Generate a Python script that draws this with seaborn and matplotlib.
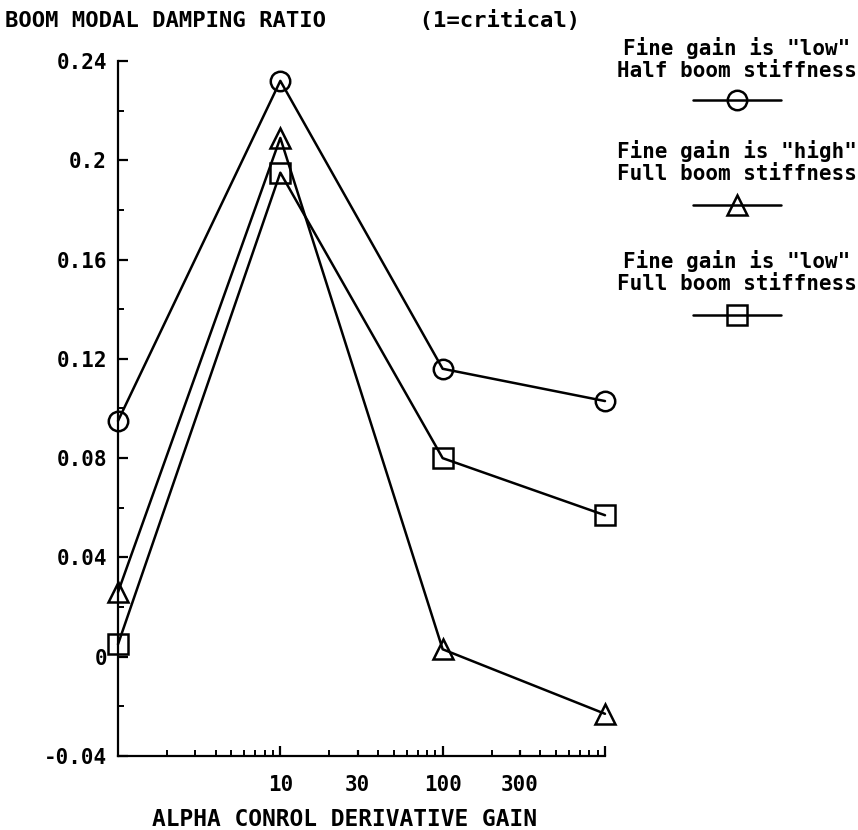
import matplotlib
matplotlib.use("Agg")
import matplotlib.pyplot as plt
import numpy as np
import pandas as pd
import seaborn as sns
from matplotlib.lines import Line2D
from matplotlib.ticker import MultipleLocator, LogLocator, NullFormatter

# data
gain = [1, 10, 100, 1000]
half_low = [0.095, 0.232, 0.116, 0.103]
full_high = [0.026, 0.209, 0.003, -0.023]
full_low = [0.005, 0.195, 0.080, 0.057]

series_labels = ['Fine gain is "low"\nHalf boom stiffness',
                 'Fine gain is "high"\nFull boom stiffness',
                 'Fine gain is "low"\nFull boom stiffness']
series_markers = ["o", "^", "s"]

xtick_vals = [10, 30, 100, 300, 1000]
xtick_labels = ["10", "30", "100", "300", ""]
ytick_vals = [-0.04, 0.0, 0.04, 0.08, 0.12, 0.16, 0.2, 0.24]
ytick_labels = ["-0.04", "0", "0.04", "0.08", "0.12", "0.16", "0.2", "0.24"]

title = "BOOM MODAL DAMPING RATIO       (1=critical)"
xlabel = "ALPHA CONROL DERIVATIVE GAIN"

df = pd.DataFrame({
    "gain": gain * 3,
    "ratio": half_low + full_high + full_low,
    "series": [series_labels[0]] * 4 + [series_labels[1]] * 4 + [series_labels[2]] * 4,
})

sns.set_style("white")
plt.rcParams["font.family"] = ["DejaVu Sans Mono", "DejaVu Sans"]
plt.rcParams["font.weight"] = "bold"
plt.rcParams["text.color"] = "black"
plt.rcParams["axes.labelcolor"] = "black"

W, H = 858, 830
fig = plt.figure(figsize=(W / 100, H / 100), dpi=100)
ax = fig.add_axes([118 / W, 1 - 756 / H, (605 - 118) / W, (756 - 61) / H])

line_kw = dict(color="black", lw=1.8, ms=14, mfc="none", mec="black", mew=1.8)
sns.lineplot(data=df, x="gain", y="ratio", style="series",
             markers=dict(zip(series_labels, series_markers)), dashes=False,
             legend=False, ax=ax, clip_on=False, **line_kw)

ax.set_xscale("log")
ax.set_xlim(1, 1000)
ax.set_ylim(-0.04, 0.24)
ax.set_xticks(xtick_vals)
ax.set_xticklabels(xtick_labels)
ax.xaxis.set_minor_locator(LogLocator(base=10, subs=np.arange(2, 10)))
ax.xaxis.set_minor_formatter(NullFormatter())
ax.set_yticks(ytick_vals)
ax.set_yticklabels(ytick_labels)
ax.yaxis.set_minor_locator(MultipleLocator(0.02))

for s in ["top", "right"]:
    ax.spines[s].set_visible(False)
for s in ["left", "bottom"]:
    ax.spines[s].set_linewidth(1.6)
    ax.spines[s].set_color("black")

ax.tick_params(axis="both", which="both", bottom=True, left=True, top=False, right=False,
               direction="in", colors="black")
ax.tick_params(axis="both", which="major", length=7, width=1.6, labelsize=15)
ax.tick_params(axis="both", which="minor", length=4, width=1.4)
ax.tick_params(axis="x", which="major", pad=14)
ax.tick_params(axis="y", which="major", pad=8)

# the labelled 30 and 300 ticks are short in the original
for tick, val in zip(ax.xaxis.get_major_ticks(), xtick_vals):
    if val in (30, 300):
        tick.tick1line.set_markersize(4)

ax.set_xlabel(xlabel, fontsize=16.5, fontweight="bold", color="black")
ax.xaxis.set_label_coords((344 - 118) / 487, -0.075)
ax.set_ylabel("")

fig.text(5 / W, 1 - 21 / H, title, fontsize=16, ha="left", va="center", color="black")

# legend drawn as stacked blocks like the original
blocks = [(37, 100), (140, 205), (250, 315)]
cx = 737
for label, marker, (ty, hy) in zip(series_labels, series_markers, blocks):
    fig.text(cx / W, 1 - ty / H, label, fontsize=15, ha="center", va="top",
             linespacing=1.1, color="black")
    fig.add_artist(Line2D([(cx - 44) / W, (cx + 44) / W], [1 - hy / H, 1 - hy / H],
                          transform=fig.transFigure, **line_kw))
    fig.add_artist(Line2D([cx / W], [1 - hy / H], transform=fig.transFigure,
                          marker=marker, linestyle="none", **line_kw))

fig.savefig("out.png", dpi=100)
